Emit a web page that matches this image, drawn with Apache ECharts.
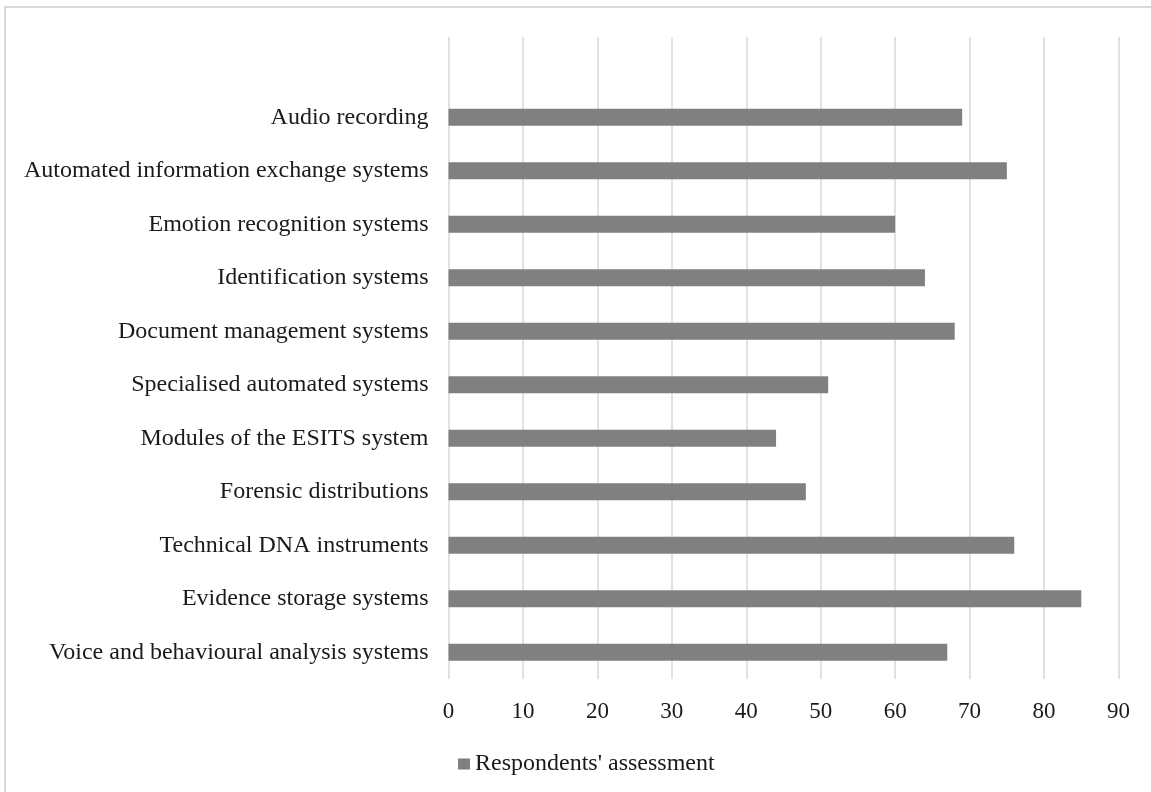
<!DOCTYPE html>
<html>
<head>
<meta charset="utf-8">
<style>
  html, body { margin: 0; padding: 0; background: #fff; }
  #chart { width: 1151px; height: 792px; }
</style>
<script src="https://cdn.jsdelivr.net/npm/echarts@6/dist/echarts.min.js"></script>
</head>
<body>
<div id="chart"></div>
<script>
// Categories from top to bottom; the leading blank row keeps the empty band above the first bar.
const categories = [
  '',
  'Audio recording',
  'Automated information exchange systems',
  'Emotion recognition systems',
  'Identification systems',
  'Document management systems',
  'Specialised automated systems',
  'Modules of the ESITS system',
  'Forensic distributions',
  'Technical DNA instruments',
  'Evidence storage systems',
  'Voice and behavioural analysis systems'
];
const assessment = [null, 69, 75, 60, 64, 68, 51, 44, 48, 76, 85, 67];
const seriesName = "Respondents' assessment";

const serif = '"Liberation Serif", "Times New Roman", serif';
const textColor = '#1a1a1a';

const chart = echarts.init(document.getElementById('chart'), null, { renderer: 'canvas' });
chart.setOption({
  animation: false,
  backgroundColor: '#ffffff',
  graphic: [{
    type: 'rect',
    shape: { x: 5, y: 7, width: 1170, height: 820 },
    style: { fill: 'none', stroke: '#d9d9d9', lineWidth: 2 },
    silent: true
  }],
  grid: { left: 448.5, right: 32.5, top: 37, bottom: 113, containLabel: false },
  legend: {
    data: [seriesName],
    left: 453,
    top: 747,
    icon: 'rect',
    itemWidth: 12,
    itemHeight: 11,
    itemGap: 5,
    textStyle: { fontFamily: serif, fontSize: 24, color: textColor }
  },
  xAxis: {
    type: 'value',
    min: 0,
    max: 90,
    interval: 10,
    axisLine: { show: false },
    axisTick: { show: false },
    splitLine: { show: true, lineStyle: { color: '#d9d9d9', width: 1.5 } },
    axisLabel: { margin: 21, fontFamily: serif, fontSize: 23, color: textColor }
  },
  yAxis: {
    type: 'category',
    inverse: true,
    data: categories,
    axisLine: { show: false },
    axisTick: { show: false },
    splitLine: { show: false },
    axisLabel: { margin: 20, fontFamily: serif, fontSize: 24, color: textColor, padding: [3, 0, 0, 0] }
  },
  series: [{
    name: seriesName,
    type: 'bar',
    data: assessment,
    barWidth: 17,
    itemStyle: { color: '#808080' }
  }]
});
</script>
</body>
</html>
